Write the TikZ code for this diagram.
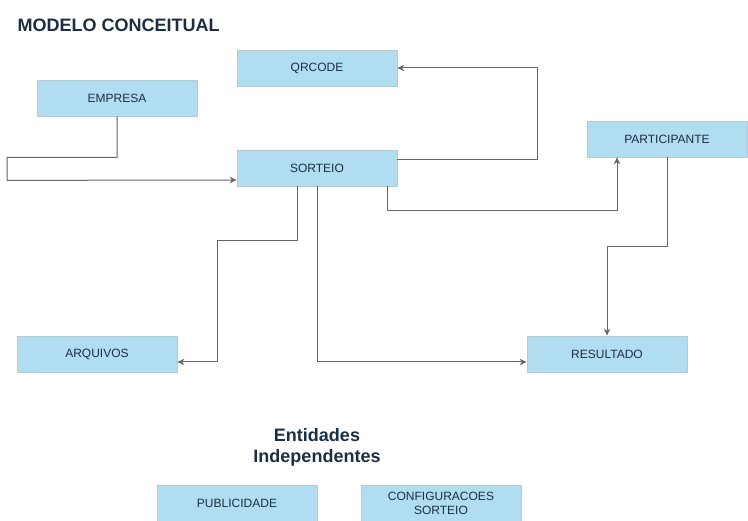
\documentclass[tikz,border=0pt]{standalone}
\usepackage{fontspec}
\setmainfont{Liberation Sans}
\usetikzlibrary{arrows.meta}
\definecolor{boxfill}{HTML}{B1DDF0}
\definecolor{boxline}{HTML}{BAC8D3}
\definecolor{inkblue}{RGB}{26,46,68}
\definecolor{wire}{HTML}{666666}

\begin{document}
\begin{tikzpicture}[x=1pt,y=1pt,line cap=round,line join=round,
  entity/.style={draw=boxline,fill=boxfill,line width=0.8pt,minimum width=160pt,minimum height=36pt,inner sep=0pt,
    text=inkblue,align=center,font=\fontsize{12}{14}\selectfont},
  link/.style={draw=wire,line width=1pt,-{Stealth[length=7pt,width=6.5pt]}},
  heading/.style={text=inkblue,font=\fontsize{18}{21}\selectfont\bfseries,align=center}]
\useasboundingbox (0,0) rectangle (748,521);
\node[heading,anchor=west] (title) at (14,496) {MODELO CONCEITUAL};
\node[entity] (empresa) at (117,423) {EMPRESA};
\node[entity] (qrcode) at (317,453) {QRCODE};
\node[entity] (sorteio) at (317,353) {SORTEIO};
\node[entity] (participante) at (667,382) {PARTICIPANTE};
\node[entity] (arquivos) at (97,167) {ARQUIVOS};
\node[entity] (resultado) at (607,167) {RESULTADO};
\node[heading] (indep) at (317,73.5) {Entidades\\Independentes};
\node[entity] (publicidade) at (237,18) {PUBLICIDADE};
\node[entity] (config) at (441,18) {CONFIGURACOES\\SORTEIO};
% ligacoes
\draw[link] (empresa.south) -- ++(0,-41) -- ++(-110,0) -- ++(0,-23) -- ([yshift=-12pt]sorteio.west);
\draw[link] ([yshift=8pt]sorteio.east) -- ++(140,0) |- (qrcode.east);
\draw[link] ([xshift=70pt]sorteio.south) -- ++(0,-24) -| ([xshift=-50pt]participante.south);
\draw[link] ([xshift=-20pt]sorteio.south) -- ++(0,-54) -- ++(-80,0) |- ([yshift=-8pt]arquivos.east);
\draw[link] (sorteio.south) |- ([yshift=-8pt]resultado.west);
\draw[link] (participante.south) -- ++(0,-89) -| (resultado.north);
\end{tikzpicture}
\end{document}
